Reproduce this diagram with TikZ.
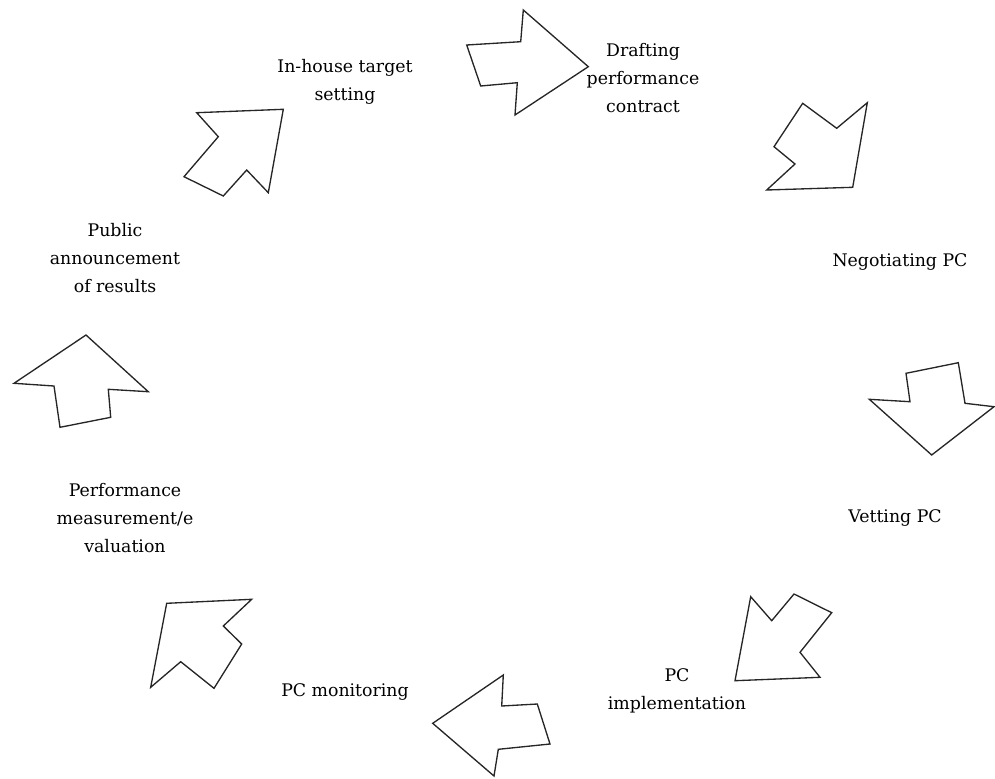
\documentclass[tikz,border=0pt]{standalone}
\usepackage{fontspec}
\setmainfont{DejaVu Serif}
\usetikzlibrary{positioning}

\begin{document}
\begin{tikzpicture}[
        x=0.75pt, y=-0.75pt,
        every node/.style={align=center, inner sep=0pt, font=\fontsize{13}{21}\selectfont},
        blockarrow/.style={draw=black!85, line width=1pt, line join=miter}
        ]
        \useasboundingbox (0,0) rectangle (995,778);
        % Nodes
        \node (inhouse) at (345,82) {In-house target\\setting};
        \node (drafting) at (643,78) {Drafting\\performance\\contract};
        \node (negotiating) at (900,262) {Negotiating PC};
        \node (vetting) at (895,518) {Vetting PC};
        \node (implementation) at (677,691) {PC\\implementation};
        \node (monitoring) at (345,692) {PC monitoring};
        \node (measurement) at (125,518) {Performance\\measurement/e\\valuation};
        \node (announcement) at (115,258) {Public\\announcement\\of results};

        % Arrows
        \draw[blockarrow] (523.3,10) -- (588.3,66.7) -- (515,115) -- (517.3,82.7)
            -- (480.7,86) -- (466.7,45) -- (520.7,41.7) -- cycle;
        \draw[blockarrow] (802.7,103.3) -- (836.7,128.3) -- (867.3,102.7) -- (852.7,187.3)
            -- (766.7,190) -- (795,164) -- (774,146.7) -- cycle;
        \draw[blockarrow] (906,373.3) -- (958.3,362.7) -- (965,403.3) -- (994,406.7)
            -- (931.7,455) -- (869.3,399.3) -- (910,401.7) -- cycle;
        \draw[blockarrow] (750.7,596.7) -- (771.7,620.7) -- (794,594) -- (831.7,612.7)
            -- (800,652.3) -- (820,677.3) -- (735,680.7) -- cycle;
        \draw[blockarrow] (503.3,675) -- (501.7,706) -- (537.3,704) -- (550,744)
            -- (498.3,749.3) -- (494,776) -- (432.7,723.3) -- cycle;
        \draw[blockarrow] (166.7,603.3) -- (251.7,599.3) -- (223.3,626) -- (241.7,644)
            -- (214,688.3) -- (180.7,661.7) -- (150.7,687.3) -- cycle;
        \draw[blockarrow] (86,335) -- (148.3,391.7) -- (108.3,389.3) -- (110.7,417.3)
            -- (60,427.3) -- (54,386) -- (14,383.3) -- cycle;
        \draw[blockarrow] (196.7,112.7) -- (283.3,109.3) -- (268.3,192.7) -- (246.7,170)
            -- (223.3,196) -- (184,176.7) -- (218.3,136.7) -- cycle;
    \end{tikzpicture}
\end{document}
